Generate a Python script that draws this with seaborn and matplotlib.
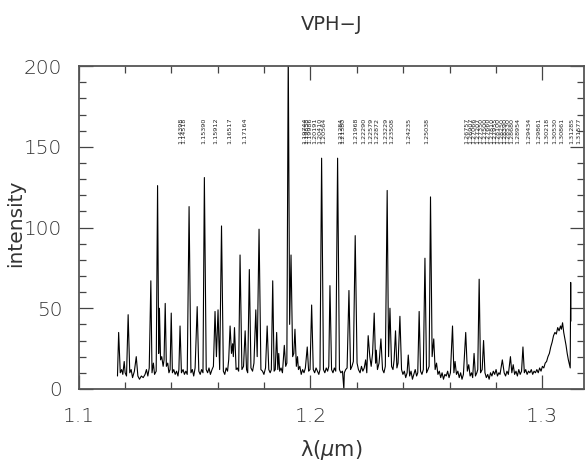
import matplotlib
matplotlib.use("Agg")
import matplotlib.pyplot as plt
from matplotlib.ticker import MultipleLocator
import seaborn as sns

# espectro de la lampara de calibracion (vertices)
wave = [
    1.1167, 1.1172, 1.1179, 1.1185, 1.1190, 1.1196, 1.1200, 1.1206, 1.1213, 1.1220,
    1.1226, 1.1232, 1.1240, 1.1248, 1.1255, 1.1262, 1.1270, 1.1278, 1.1286, 1.1292,
    1.1298, 1.1304, 1.1311, 1.1316, 1.1322, 1.1327, 1.1334, 1.1340, 1.1345, 1.1348,
    1.1353, 1.1358, 1.1364, 1.1368, 1.1373, 1.1378, 1.1384, 1.1389, 1.1394, 1.1399,
    1.1404, 1.1410, 1.1416, 1.1422, 1.1428, 1.1432, 1.1437, 1.1443, 1.1450, 1.1456,
    1.1462, 1.1468, 1.1476, 1.1484, 1.1490, 1.1496, 1.1502, 1.1511, 1.1518, 1.1524,
    1.1530, 1.1536, 1.1542, 1.1550, 1.1556, 1.1562, 1.1568, 1.1575, 1.1581, 1.1588,
    1.1594, 1.1601, 1.1608, 1.1616, 1.1624, 1.1630, 1.1636, 1.1642, 1.1647, 1.1653,
    1.1659, 1.1664, 1.1667, 1.1672, 1.1679, 1.1684, 1.1690, 1.1696, 1.1704, 1.1711,
    1.1718, 1.1724, 1.1729, 1.1736, 1.1743, 1.1750, 1.1756, 1.1764, 1.1770, 1.1778,
    1.1786, 1.1793, 1.1799, 1.1806, 1.1813, 1.1820, 1.1826, 1.1831, 1.1837, 1.1843,
    1.1848, 1.1854, 1.1859, 1.1863, 1.1867, 1.1873, 1.1879, 1.1887, 1.1893, 1.1898,
    1.1904, 1.1910, 1.1916, 1.1923, 1.1928, 1.1933, 1.1939, 1.1944, 1.1948, 1.1954,
    1.1960, 1.1966, 1.1972, 1.1978, 1.1986, 1.1992, 1.1998, 1.2005, 1.2012, 1.2018,
    1.2024, 1.2030, 1.2036, 1.2041, 1.2048, 1.2056, 1.2062, 1.2068, 1.2074, 1.2079,
    1.2084, 1.2091, 1.2097, 1.2103, 1.2109, 1.2117, 1.2125, 1.2131, 1.2138, 1.2144,
    1.2146, 1.2152, 1.2158, 1.2166, 1.2173, 1.2179, 1.2185, 1.2193, 1.2201, 1.2207,
    1.2214, 1.2220, 1.2226, 1.2232, 1.2238, 1.2243, 1.2249, 1.2256, 1.2262, 1.2268,
    1.2275, 1.2281, 1.2284, 1.2289, 1.2296, 1.2304, 1.2311, 1.2317, 1.2323, 1.2331,
    1.2337, 1.2343, 1.2350, 1.2356, 1.2361, 1.2367, 1.2373, 1.2378, 1.2386, 1.2393,
    1.2399, 1.2405, 1.2411, 1.2417, 1.2422, 1.2428, 1.2434, 1.2440, 1.2446, 1.2452,
    1.2458, 1.2463, 1.2469, 1.2475, 1.2481, 1.2487, 1.2494, 1.2501, 1.2507, 1.2512,
    1.2518, 1.2525, 1.2532, 1.2538, 1.2544, 1.2550, 1.2556, 1.2562, 1.2568, 1.2574,
    1.2580, 1.2586, 1.2592, 1.2598, 1.2604, 1.2613, 1.2619, 1.2624, 1.2630, 1.2636,
    1.2642, 1.2648, 1.2654, 1.2660, 1.2670, 1.2677, 1.2683, 1.2689, 1.2695, 1.2700,
    1.2706, 1.2712, 1.2718, 1.2722, 1.2728, 1.2734, 1.2741, 1.2747, 1.2753, 1.2759,
    1.2765, 1.2771, 1.2777, 1.2783, 1.2789, 1.2795, 1.2801, 1.2807, 1.2813, 1.2818,
    1.2828, 1.2836, 1.2842, 1.2848, 1.2854, 1.2863, 1.2869, 1.2875, 1.2881, 1.2887,
    1.2893, 1.2899, 1.2905, 1.2911, 1.2917, 1.2923, 1.2929, 1.2935, 1.2941, 1.2947,
    1.2953, 1.2959, 1.2965, 1.2971, 1.2977, 1.2983, 1.2989, 1.2995, 1.3001, 1.3007,
    1.3013, 1.3019, 1.3025, 1.3031, 1.3037, 1.3043, 1.3049, 1.3055, 1.3061, 1.3067,
    1.3073, 1.3079, 1.3083, 1.3088, 1.3093, 1.3098, 1.3103, 1.3108, 1.3113, 1.3118,
    1.3121, 1.3123, 1.3124,
]
flux = [
    8, 35, 10, 12, 9, 17, 10, 8, 46, 10,
    12, 7, 11, 20, 8, 6, 8, 7, 9, 12,
    8, 13, 67, 10, 16, 9, 11, 126, 22, 50,
    18, 20, 14, 18, 53, 14, 16, 10, 12, 47,
    10, 12, 9, 11, 8, 12, 39, 10, 12, 9,
    11, 9, 113, 10, 12, 8, 13, 51, 11, 9,
    12, 10, 131, 12, 10, 13, 9, 12, 14, 48,
    20, 49, 12, 101, 11, 9, 13, 11, 18, 39,
    22, 28, 20, 38, 12, 13, 11, 83, 12, 14,
    36, 12, 10, 74, 13, 11, 16, 49, 20, 99,
    12, 11, 9, 13, 39, 12, 10, 12, 67, 11,
    12, 35, 12, 22, 11, 13, 10, 27, 14, 16,
    210, 40, 83, 20, 22, 37, 14, 20, 12, 14,
    9, 12, 10, 13, 26, 11, 12, 52, 12, 10,
    13, 11, 9, 12, 143, 12, 10, 13, 11, 14,
    64, 12, 10, 13, 11, 143, 12, 10, 11, 0,
    10, 12, 13, 61, 12, 14, 17, 95, 16, 12,
    10, 14, 11, 13, 18, 10, 33, 20, 14, 22,
    47, 16, 24, 12, 16, 31, 12, 10, 14, 123,
    20, 50, 14, 12, 18, 36, 13, 16, 45, 12,
    9, 11, 7, 10, 21, 8, 11, 6, 9, 12,
    8, 10, 48, 11, 9, 12, 81, 10, 12, 14,
    119, 20, 31, 12, 16, 9, 11, 7, 10, 6,
    9, 8, 11, 7, 10, 39, 10, 17, 9, 11,
    7, 10, 6, 9, 35, 11, 15, 8, 10, 7,
    22, 8, 10, 12, 68, 10, 12, 30, 10, 7,
    9, 6, 10, 8, 11, 9, 12, 8, 10, 9,
    18, 10, 8, 11, 9, 20, 10, 15, 9, 11,
    8, 12, 9, 11, 26, 10, 12, 9, 11, 10,
    12, 9, 11, 10, 12, 10, 13, 11, 14, 13,
    16, 17, 20, 22, 26, 29, 33, 35, 34, 38,
    36, 39, 37, 41, 35, 31, 27, 22, 18, 15,
    13, 66, 42,
]

# longitudes de onda de las lineas identificadas
line_ids = [
    1.14398, 1.14518, 1.15390, 1.15912, 1.16517, 1.17164,
    1.19744, 1.19858, 1.19986, 1.20191, 1.20410, 1.20564,
    1.21284, 1.21380, 1.21968, 1.22290, 1.22579, 1.22872,
    1.23229, 1.23508, 1.24235, 1.25038,
    1.26757, 1.26907, 1.27066, 1.27207, 1.27350, 1.27500, 1.27660,
    1.27810, 1.27955, 1.28100, 1.28250, 1.28390, 1.28530, 1.28680,
    1.28954, 1.29434, 1.29861, 1.30218, 1.30530, 1.30861, 1.31285, 1.31577,
]
label_y = 152

x_ticks = [1.1, 1.2, 1.3]
y_ticks = [0, 50, 100, 150, 200]

sns.set_theme(style="ticks")
plt.rcParams['font.family'] = ['DejaVu Sans']
plt.rcParams['font.weight'] = 'light'

fig = plt.figure(figsize=(5.88, 4.63), dpi=100)
ax = fig.add_axes([0.134, 0.160, 0.859, 0.697])

sns.lineplot(x=wave, y=flux, sort=False, estimator=None, color='black',
             linewidth=0.8, ax=ax)

for w in line_ids:
    ax.text(w, label_y, f"{w:.5f}", rotation=90, ha='center', va='bottom',
            fontsize=4.6, color='#222222', fontweight='normal')

ax.set_xlim(1.1, 1.318)
ax.set_ylim(0, 200)
ax.set_xticks(x_ticks)
ax.set_xticklabels([str(t) for t in x_ticks])
ax.set_yticks(y_ticks)
ax.set_yticklabels([str(t) for t in y_ticks])
ax.xaxis.set_minor_locator(MultipleLocator(0.02))
ax.yaxis.set_minor_locator(MultipleLocator(10))
ax.tick_params(which='both', direction='in', top=True, right=True,
               color='#444444', width=0.9)
ax.tick_params(which='major', length=10, labelsize=14.5, labelcolor='#333333')
ax.tick_params(axis='y', which='major', pad=12)
ax.tick_params(axis='x', which='major', pad=13)
ax.tick_params(which='minor', length=5)
for s in ax.spines.values():
    s.set_linewidth(1.3)
    s.set_color('#555555')

ax.set_xlabel("λ($\\mu$m)", fontsize=15, color='#333333')
ax.xaxis.set_label_coords(0.5, -0.152)
ax.set_ylabel("intensity", fontsize=14.5, color='#333333')
ax.yaxis.set_label_coords(-0.107, 0.514)
ax.set_title("VPH−J", fontsize=14, pad=26, color='#333333')

plt.savefig("out.png", dpi=100)
